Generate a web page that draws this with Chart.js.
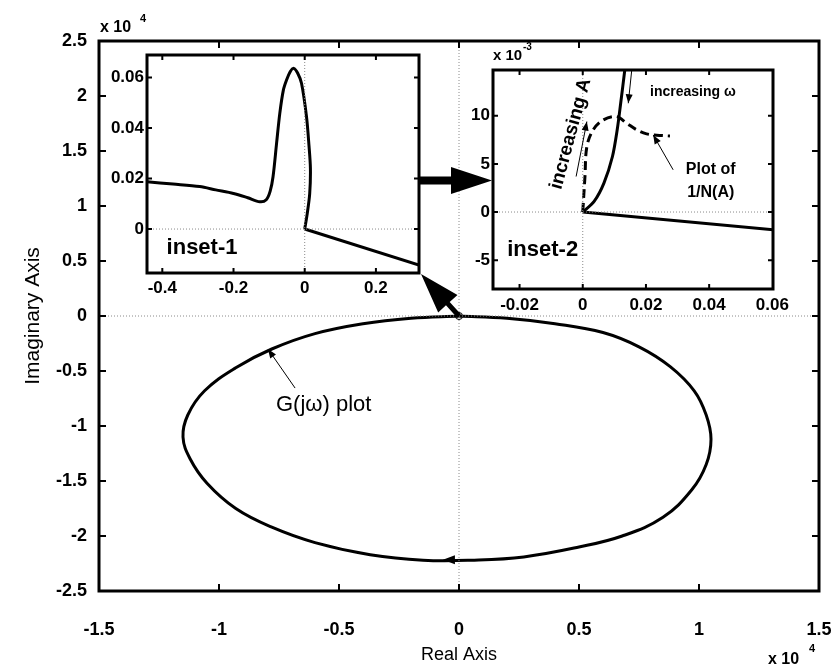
<!DOCTYPE html>
<html>
<head>
<meta charset="utf-8">
<script src="https://cdn.jsdelivr.net/npm/chart.js@4.4.0/dist/chart.umd.min.js"></script>
<style>
  html, body { margin: 0; padding: 0; background: #fff; }
  #wrap { position: relative; width: 835px; height: 669px; }
  canvas { position: absolute; }
  #main { left: 0; top: 0; }
  #in1 { left: 100px; top: 45px; }
  #in2 { left: 450px; top: 40px; }
</style>
</head>
<body>
<div id="wrap">
  <canvas id="main" width="835" height="669"></canvas>
  <canvas id="in1" width="330" height="260"></canvas>
  <canvas id="in2" width="380" height="280"></canvas>
</div>
<script>
const FONT = '"Liberation Sans", Arial, Helvetica, sans-serif';
Chart.defaults.font.family = FONT;
Chart.defaults.color = '#000';

// main Nyquist plane, both axes x 10^4
const mainXTicks = [-1.5, -1, -0.5, 0, 0.5, 1, 1.5];
const mainYTicks = [-2.5, -2, -1.5, -1, -0.5, 0, 0.5, 1, 1.5, 2, 2.5];
const gRe = [0, 0.2, 0.4, 0.6, 0.75, 0.88, 0.98, 1.03, 1.05, 1.03, 0.97, 0.85, 0.68, 0.5, 0.27, 0.05,
             -0.15, -0.37, -0.6, -0.78, -0.93, -1.05, -1.12, -1.15, -1.13, -1.06, -0.93, -0.78, -0.6, -0.4, -0.2, 0];
const gIm = [0, -0.02, -0.07, -0.15, -0.28, -0.46, -0.68, -0.9, -1.12, -1.35, -1.58, -1.83, -2.0, -2.1, -2.19, -2.22,
             -2.22, -2.17, -2.06, -1.92, -1.75, -1.52, -1.3, -1.1, -0.9, -0.68, -0.47, -0.3, -0.16, -0.07, -0.02, 0];

// inset-1: the locus near the origin
const in1XTicks = [-0.4, -0.2, 0, 0.2];
const in1YTicks = [0, 0.02, 0.04, 0.06];
const in1Re = [-0.443, -0.37, -0.295, -0.25, -0.2, -0.16, -0.126, -0.108, -0.097, -0.089, -0.079, -0.07,
               -0.06, -0.051, -0.04, -0.031, -0.02, -0.009, 0.005, 0.012, 0.016, 0.014, 0.007, 0];
const in1Im = [0.0187, 0.0178, 0.0168, 0.0155, 0.0141, 0.0124, 0.0108, 0.0116, 0.015, 0.0207, 0.034, 0.0458,
               0.055, 0.059, 0.0625, 0.0636, 0.0618, 0.0577, 0.0445, 0.033, 0.024, 0.014, 0.006, 0];
const in1TailRe = [0, 0.321];
const in1TailIm = [0, -0.0143];

// inset-2: G(jw) against 1/N(A), imaginary part x 10^-3
const in2XTicks = [-0.02, 0, 0.02, 0.04, 0.06];
const in2YTicks = [-5, 0, 5, 10];
const in2GRe = [0, 0.0036, 0.0067, 0.0094, 0.0109, 0.012, 0.0133, 0.0135];
const in2GIm = [0, 1.1, 3.0, 5.77, 8.54, 11.3, 14.76, 15.5];
const in2TailRe = [0, 0.061];
const in2TailIm = [0, -1.87];
const nRe = [0, 0.0007, 0.0013, 0.0033, 0.0065, 0.0107, 0.0139, 0.0171, 0.0202, 0.0234, 0.0276];
const nIm = [0, 3.69, 6.8, 8.54, 9.57, 9.92, 9.23, 8.54, 8.12, 7.99, 7.9];

const pts = (xs, ys) => xs.map((v, i) => ({x: v, y: ys[i]}));

function lineSet(xs, ys, extra) {
  return Object.assign({
    data: pts(xs, ys), showLine: true, borderColor: '#000', borderWidth: 3,
    pointRadius: 0, fill: false, tension: 0
  }, extra);
}
const zeroStyle = {borderColor: '#8a8a8a', borderWidth: 1, borderDash: [1, 2]};

function axis(min, max, ticks, size, pad, fit, horiz) {
  return {
    type: 'linear', min: min, max: max,
    afterBuildTicks: s => { s.ticks = ticks.map(v => ({value: v})); },
    afterFit: s => {
      if (horiz) s.height = fit; else s.width = fit;
      // the layout padding already leaves room for the end labels
      s.paddingLeft = s.paddingRight = s.paddingTop = s.paddingBottom = 0;
    },
    grid: {display: false, drawTicks: false},
    border: {display: false},
    ticks: {font: {size: size, weight: 'bold'}, padding: pad, color: '#000',
            autoSkip: false, maxRotation: 0, callback: v => String(v)}
  };
}

function txt(ctx, s, x, y, font, align, base) {
  ctx.font = font;
  ctx.textAlign = align || 'left';
  ctx.textBaseline = base || 'middle';
  ctx.fillStyle = '#000';
  ctx.fillText(s, x, y);
}

function blockArrow(ctx, x1, y1, x2, y2, shaft, headLen, headHalf) {
  const ang = Math.atan2(y2 - y1, x2 - x1), len = Math.hypot(x2 - x1, y2 - y1);
  ctx.save();
  ctx.translate(x1, y1);
  ctx.rotate(ang);
  ctx.fillStyle = '#000';
  ctx.beginPath();
  ctx.moveTo(0, -shaft / 2);
  ctx.lineTo(len - headLen, -shaft / 2);
  ctx.lineTo(len - headLen, -headHalf);
  ctx.lineTo(len, 0);
  ctx.lineTo(len - headLen, headHalf);
  ctx.lineTo(len - headLen, shaft / 2);
  ctx.lineTo(0, shaft / 2);
  ctx.closePath();
  ctx.fill();
  ctx.restore();
}

function thinArrow(ctx, x1, y1, x2, y2) {
  ctx.save();
  ctx.strokeStyle = '#000';
  ctx.lineWidth = 1;
  ctx.beginPath();
  ctx.moveTo(x1, y1);
  ctx.lineTo(x2, y2);
  ctx.stroke();
  ctx.restore();
  blockArrow(ctx, x1, y1, x2, y2, 0, 9, 3.5);
}

// frame with inward tick marks on all four sides
function framePlugin(lw, tl, white) {
  return {
    id: 'frame',
    beforeDatasetsDraw(chart) {
      if (!white) return;
      const a = chart.chartArea, ctx = chart.ctx;
      ctx.save();
      ctx.fillStyle = '#fff';
      ctx.fillRect(a.left, a.top, a.width, a.height);
      ctx.restore();
    },
    afterDatasetsDraw(chart) {
      const {ctx, chartArea: a, scales: {x, y}} = chart;
      ctx.save();
      ctx.strokeStyle = '#000';
      ctx.lineWidth = 2;
      ctx.beginPath();
      x.ticks.forEach(t => {
        const p = x.getPixelForValue(t.value);
        if (p <= a.left + 2 || p >= a.right - 2) return;
        ctx.moveTo(p, a.bottom); ctx.lineTo(p, a.bottom - tl);
        ctx.moveTo(p, a.top); ctx.lineTo(p, a.top + tl);
      });
      y.ticks.forEach(t => {
        const p = y.getPixelForValue(t.value);
        if (p <= a.top + 2 || p >= a.bottom - 2) return;
        ctx.moveTo(a.left, p); ctx.lineTo(a.left + tl, p);
        ctx.moveTo(a.right, p); ctx.lineTo(a.right - tl, p);
      });
      ctx.stroke();
      ctx.lineWidth = lw;
      ctx.strokeRect(a.left, a.top, a.width, a.height);
      ctx.restore();
    }
  };
}

const baseOpts = {
  responsive: false, animation: false, devicePixelRatio: 1, events: [],
  plugins: {legend: {display: false}, tooltip: {enabled: false}}
};

// ---------- main chart ----------
const mainNotes = {
  id: 'mainNotes',
  afterDraw(chart) {
    const {ctx, chartArea: a, scales: {x, y}} = chart;
    txt(ctx, 'x 10', a.left + 1, a.top - 13, 'bold 16px ' + FONT);
    txt(ctx, '4', a.left + 41, a.top - 22, 'bold 11px ' + FONT);
    txt(ctx, 'x 10', a.right - 51, 660, 'bold 16px ' + FONT);
    txt(ctx, '4', a.right - 10, 649, 'bold 11px ' + FONT);

    txt(ctx, 'G(j\u03c9) plot', x.getPixelForValue(-0.7625), y.getPixelForValue(-0.81), '22px ' + FONT);
    thinArrow(ctx, x.getPixelForValue(-0.683), y.getPixelForValue(-0.655),
                   x.getPixelForValue(-0.796), y.getPixelForValue(-0.3));
    // direction of travel along the bottom of the locus
    blockArrow(ctx, x.getPixelForValue(0.0), y.getPixelForValue(-2.215),
                    x.getPixelForValue(-0.067), y.getPixelForValue(-2.215), 0, 12, 4.5);

    // zoom pointers between the plane and the insets
    blockArrow(ctx, 419, 180.5, 492, 180.5, 8, 41, 13.5);
    blockArrow(ctx, x.getPixelForValue(0), y.getPixelForValue(0), 421, 274, 5, 40, 13);
  }
};

new Chart(document.getElementById('main'), {
  type: 'scatter',
  data: {
    datasets: [
      lineSet([-1.5, 1.5], [0, 0], zeroStyle),
      lineSet([0, 0], [-2.5, 2.5], zeroStyle),
      lineSet(gRe, gIm, {tension: 0.4}),
      {data: [{x: 0, y: 0}], pointRadius: 3.5, pointBorderWidth: 1, pointBorderColor: '#000',
       pointBackgroundColor: 'rgba(0,0,0,0)', showLine: false}
    ]
  },
  options: Object.assign({}, baseOpts, {
    layout: {padding: {top: 41, right: 16, left: 0, bottom: 0}},
    scales: {
      x: Object.assign(axis(-1.5, 1.5, mainXTicks, 18, 28, 78, true), {
        title: {display: true, text: 'Real Axis', font: {size: 18}, padding: {top: 0, bottom: 3}}
      }),
      y: Object.assign(axis(-2.5, 2.5, mainYTicks, 18, 12, 99, false), {
        title: {display: true, text: 'Imaginary Axis', font: {size: 21}, padding: {top: 21, bottom: 0}}
      })
    }
  }),
  plugins: [framePlugin(3, 7, false), mainNotes]
});

// ---------- inset-1 ----------
const in1Notes = {
  id: 'in1Notes',
  afterDraw(chart) {
    const {ctx, scales: {x, y}} = chart;
    txt(ctx, 'inset-1', x.getPixelForValue(-0.388), y.getPixelForValue(-0.0075), 'bold 22px ' + FONT);
  }
};

new Chart(document.getElementById('in1'), {
  type: 'scatter',
  data: {
    datasets: [
      lineSet([-0.443, 0.321], [0, 0], zeroStyle),
      lineSet([0, 0], [-0.0174, 0.0689], zeroStyle),
      lineSet(in1Re, in1Im, {tension: 0.3}),
      lineSet(in1TailRe, in1TailIm)
    ]
  },
  options: Object.assign({}, baseOpts, {
    layout: {padding: {top: 10, right: 11, left: 0, bottom: 0}},
    scales: {
      x: axis(-0.443, 0.321, in1XTicks, 17, 5, 32, true),
      y: axis(-0.0174, 0.0689, in1YTicks, 17, 3, 47, false)
    }
  }),
  plugins: [framePlugin(3, 5, true), in1Notes]
});

// ---------- inset-2 ----------
const in2Notes = {
  id: 'in2Notes',
  afterDraw(chart) {
    const {ctx, chartArea: a, scales: {x, y}} = chart;
    const px = v => x.getPixelForValue(v), py = v => y.getPixelForValue(v);
    txt(ctx, 'x 10', a.left, a.top - 14, 'bold 15px ' + FONT);
    txt(ctx, '-3', a.left + 30, a.top - 23, 'bold 10px ' + FONT);

    txt(ctx, 'inset-2', px(-0.0239), py(-3.9), 'bold 22px ' + FONT);
    txt(ctx, 'increasing \u03c9', px(0.0213), py(12.5), 'bold 14px ' + FONT);
    txt(ctx, 'Plot of', px(0.0405), py(4.39), 'bold 16px ' + FONT, 'center');
    txt(ctx, '1/N(A)', px(0.0405), py(2.0), 'bold 16px ' + FONT, 'center');

    ctx.save();
    ctx.translate(px(-0.0038), py(8.12));
    ctx.rotate(-75 * Math.PI / 180);
    txt(ctx, 'increasing A', 0, 0, 'bold 19px ' + FONT, 'center');
    ctx.restore();

    thinArrow(ctx, px(-0.0021), py(3.69), px(0.0013), py(9.4));
    thinArrow(ctx, px(0.0155), py(14.76), px(0.0144), py(11.3));
    thinArrow(ctx, px(0.0286), py(4.39), px(0.0223), py(8.0));
  }
};

new Chart(document.getElementById('in2'), {
  type: 'scatter',
  data: {
    datasets: [
      lineSet([-0.0284, 0.0602], [0, 0], zeroStyle),
      lineSet([0, 0], [-8, 14.76], zeroStyle),
      lineSet(in2GRe, in2GIm, {tension: 0.3}),
      lineSet(in2TailRe, in2TailIm),
      lineSet(nRe, nIm, {tension: 0.35, borderDash: [9, 5]})
    ]
  },
  options: Object.assign({}, baseOpts, {
    layout: {padding: {top: 30, right: 57, left: 0, bottom: 0}},
    scales: {
      x: axis(-0.0284, 0.0602, in2XTicks, 17, 6, 31, true),
      y: axis(-8, 14.76, in2YTicks, 17, 3, 43, false)
    }
  }),
  plugins: [framePlugin(3, 5, true), in2Notes]
});
</script>
</body>
</html>
